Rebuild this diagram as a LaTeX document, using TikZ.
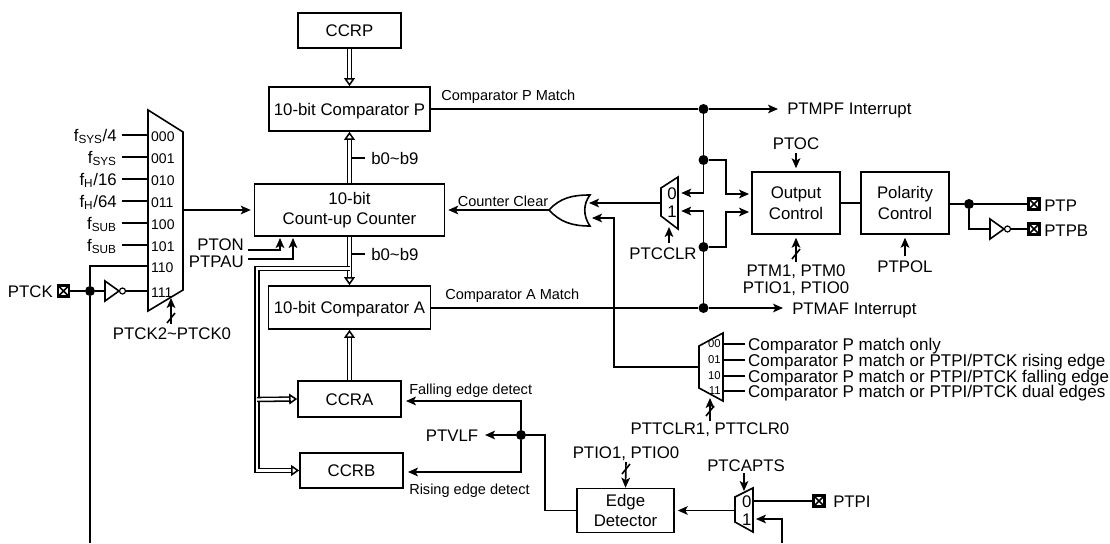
\documentclass[tikz,border=0pt]{standalone}
\usepackage{fontspec}
\setmainfont{Liberation Sans}
\usetikzlibrary{arrows.meta}

\newcommand{\bigsize}{\fontsize{12.6}{15.5}\selectfont}
\newcommand{\smallsize}{\fontsize{10.9}{13}\selectfont}

\tikzset{
        wire/.style={line width=1.2pt, line join=miter},
        sig/.style={wire, -{Stealth[length=7.5pt,width=6.5pt,inset=1.8pt]}},
        gapped/.style={shorten >=2.2pt},
        bus/.style={line width=1.15pt, double, double distance=1.8pt, -{Triangle[open,length=6pt,width=8pt,fill=white]}},
        block/.style 2 args={draw, wire, minimum width=#1*0.75pt, minimum height=#2*0.75pt, inner sep=0pt, align=center, font=\bigsize},
        oneline/.style={text height=9pt, text depth=0pt},
        lab/.style={inner sep=0pt, text height=9pt, text depth=0pt, font=\bigsize},
        smalllab/.style={inner sep=0pt, text height=8pt, text depth=0pt, font=\smallsize},
        clk/.style={lab, anchor=east, inner xsep=3.75pt},
        code/.style={lab, anchor=west, inner xsep=2.2pt, font=\fontsize{10.5}{12}\selectfont},
        tinycode/.style={inner ysep=0pt, inner xsep=1.5pt, anchor=east, font=\fontsize{8.5}{10}\selectfont},
        tail/.style={lab, anchor=west, inner xsep=2.2pt, font=\fontsize{12.75}{15.5}\selectfont},
        digit/.style={lab, inner xsep=1pt},
        dot/.style={circle, fill=black, inner sep=0pt, minimum size=7.5pt},
        bubble/.style={circle, draw, line width=0.9pt, fill=white, inner sep=0pt, minimum size=4.5pt},
        pad/.style={draw, line width=1.8pt, inner sep=0pt, minimum size=8.5pt,
                path picture={\draw[line width=1.1pt] (path picture bounding box.north west) -- (path picture bounding box.south east)
                (path picture bounding box.north east) -- (path picture bounding box.south west);}},
}

\newcommand{\inverter}[3]{%
        \draw[wire] (#2,#3-10) -- (#2+14,#3) -- (#2,#3+10) -- cycle;
        \coordinate (#1In) at (#2,#3);
        \node[bubble] (#1Out) at (#2+17.5,#3) {};
}
\newcommand{\bustick}[1]{\draw[wire] (#1) ++(-4,5) -- ++(8,-10);}

\begin{document}
\begin{tikzpicture}[x=0.75pt, y=-0.75pt]
        \useasboundingbox (0,0) rectangle (1110,543);

        % Registers, comparators and counter
        \node[block={103}{35}, oneline] (ccrp) at (349.5,30.5) {CCRP};
        \node[block={161}{44}, oneline] (cmpP) at (349.5,109) {10-bit Comparator P};
        \node[block={190}{52}] (counter) at (349.5,210) {10-bit\\Count-up Counter};
        \node[block={162}{43}, oneline] (cmpA) at (349.5,307.5) {10-bit Comparator A};
        \node[block={103}{36}, oneline] (ccra) at (349.5,399) {CCRA};
        \node[block={103}{35}, oneline] (ccrb) at (351.5,470.5) {CCRB};

        % Bit labels on the buses
        \node[lab, anchor=west, inner xsep=4.5pt] (bitsUp) at (365,158) {b0\textasciitilde b9};
        \node[lab, anchor=west, inner xsep=4.5pt] (bitsDown) at (365,254) {b0\textasciitilde b9};
        \draw[wire] (bitsUp.west) -- (bitsUp.west -| counter.north);
        \draw[wire] (bitsDown.west) -- (bitsDown.west -| counter.south);

        % Buses
        \coordinate (busTee) at (349.5,268.5);
        \coordinate (busCorner) at (257,268.5);
        \coordinate (busBottom) at (257,470.5);
        \coordinate (busJoin) at (257,399.5);
        \draw[bus] (ccrp) -- (cmpP);
        \draw[bus] (counter) -- (cmpP);
        \draw[bus] (counter) -- (cmpA);
        \draw[bus] (ccra) -- (cmpA);
        \draw[bus] (busTee) -- (busCorner) -- (busBottom) -- (ccrb.west);
        \draw[bus] (busJoin) -- (ccra.west);

        % Clock select mux
        \draw[wire] (148,110) -- (183,132) -- (183,290) -- (148,311) -- cycle;
        \node[clk] (clkA) at (122,135) {f\textsubscript{SYS}/4};
        \node[clk] (clkB) at (122,157) {f\textsubscript{SYS}};
        \node[clk] (clkC) at (122,179) {f\textsubscript{H}/16};
        \node[clk] (clkD) at (122,201) {f\textsubscript{H}/64};
        \node[clk] (clkE) at (122,223) {f\textsubscript{SUB}};
        \node[clk] (clkF) at (122,245) {f\textsubscript{SUB}};
        \node[code] (codeA) at (148,135) {000};
        \node[code] (codeB) at (148,157) {001};
        \node[code] (codeC) at (148,179) {010};
        \node[code] (codeD) at (148,201) {011};
        \node[code] (codeE) at (148,223) {100};
        \node[code] (codeF) at (148,245) {101};
        \node[code] (codeG) at (148,266) {110};
        \node[code] (codeH) at (148,291) {111};
        \draw[wire] (clkA) -- (codeA.west);
        \draw[wire] (clkB) -- (codeB.west);
        \draw[wire] (clkC) -- (codeC.west);
        \draw[wire] (clkD) -- (codeD.west);
        \draw[wire] (clkE) -- (codeE.west);
        \draw[wire] (clkF) -- (codeF.west);

        % PTCK pin
        \node[lab, anchor=east] (txtPTCK) at (53,291) {PTCK};
        \node[pad] (padPTCK) at (63.5,291) {};
        \node[dot] (dotCk) at (90,291) {};
        \coordinate (ckDown) at (90,543);
        \inverter{invA}{105}{291}
        \draw[wire] (padPTCK) -- (dotCk);
        \draw[wire] (dotCk) -- (invAIn);
        \draw[wire] (invAOut) -- (codeH.west);
        \draw[wire] (dotCk) |- (codeG.west);
        \draw[wire] (dotCk) -- (ckDown);

        % Mux select and counter controls
        \coordinate (muxOut) at (183,210);
        \draw[sig, gapped] (muxOut) -- (counter.west);
        \node[lab] (txtSel) at (172,333) {PTCK2\textasciitilde PTCK0};
        \coordinate (selTail) at (171,324);
        \coordinate (selTip) at (171,298);
        \draw[sig] (selTail) -- (selTip);
        \coordinate (selTick) at (171,318);
        \bustick{selTick}
        \node[lab, anchor=east] (txtPTON) at (244,244) {PTON};
        \node[lab, anchor=east] (txtPTPAU) at (244,261) {PTPAU};
        \coordinate (ptonIn) at (248,250);
        \coordinate (ptpauIn) at (248,259);
        \coordinate (ptonTip) at (280,238);
        \coordinate (ptpauTip) at (293,238);
        \draw[sig] (ptonIn) -| (ptonTip);
        \draw[sig] (ptpauIn) -| (ptpauTip);

        % Match lines
        \node[smalllab, anchor=west] (txtMatchP) at (441,95) {Comparator P Match};
        \node[smalllab, anchor=west] (txtMatchA) at (445,294) {Comparator A Match};
        \node[dot] (dotP) at (703.5,109) {};
        \node[dot] (dotPb) at (703.5,160) {};
        \node[dot] (dotAb) at (703.5,247) {};
        \node[dot] (dotA) at (703.5,308) {};
        \coordinate (mpfEnd) at (778,109);
        \coordinate (mafEnd) at (783,308);
        \node[lab, anchor=west] (txtMPF) at (787,108) {PTMPF Interrupt};
        \node[lab, anchor=west] (txtMAF) at (792,308) {PTMAF Interrupt};
        \draw[wire] (cmpP.east) -- (dotP);
        \draw[wire] (cmpA.east |- dotA) -- (dotA);
        \draw[sig] (dotP) -- (mpfEnd);
        \draw[sig] (dotA) -- (mafEnd);
        \draw[wire] (dotP) -- (dotPb);
        \draw[wire] (dotAb) -- (dotA);

        % Counter clear gate and mux
        \coordinate (orOut) at (549,210);
        \coordinate (orInA) at (589,203);
        \coordinate (orInB) at (592,218);
        \draw[wire] (orOut) .. controls (560,198) and (572,195) .. (590,195)
                .. controls (583,204) and (583,216) .. (590,226)
                .. controls (572,226) and (560,222) .. cycle;
        \draw[sig, gapped] (orOut) -- (counter.east);
        \node[smalllab] (txtClear) at (503,201) {Counter Clear};
        \draw[wire] (661,188) -- (678,177) -- (678,229) -- (661,216) -- cycle;
        \node[digit] (clrZero) at (672,193) {0};
        \node[digit] (clrOne) at (672,211) {1};
        \coordinate (clrOut) at (661,203);
        \draw[sig] (clrOut) -- (orInA);
        \draw[sig, gapped] (dotPb) |- (clrZero.east);
        \draw[sig, gapped] (dotAb) |- (clrOne.east);
        \node[lab] (txtPTCCLR) at (663,253) {PTCCLR};
        \coordinate (clrTail) at (669,243);
        \coordinate (clrTip) at (669,227);
        \draw[sig] (clrTail) -- (clrTip);

        % Output and polarity control
        \node[block={88}{62}] (outctl) at (796,203) {Output\\Control};
        \node[block={88}{62}] (polctl) at (905,203) {Polarity\\Control};
        \draw[wire] (outctl) -- (polctl);
        \coordinate (bendP) at (726,160);
        \coordinate (bendA) at (726,247);
        \coordinate (outP) at (752,194);
        \coordinate (outA) at (752,212);
        \draw[sig, gapped] (dotPb) -- (bendP) |- (outP);
        \draw[sig, gapped] (dotAb) -- (bendA) |- (outA);
        \node[lab] (txtPTOC) at (796,143) {PTOC};
        \coordinate (ptocTail) at (796,153);
        \draw[sig, gapped] (ptocTail) -- (outctl.north);
        \node[lab] (txtModeA) at (796,270) {PTM1, PTM0};
        \node[lab] (txtModeB) at (796,287) {PTIO1, PTIO0};
        \coordinate (modeTail) at (796,262);
        \draw[sig, gapped] (modeTail) -- (outctl.south);
        \coordinate (modeTick) at (796,254);
        \bustick{modeTick}
        \node[lab] (txtPTPOL) at (905,266) {PTPOL};
        \coordinate (polTail) at (905,256);
        \draw[sig, gapped] (polTail) -- (polctl.south);

        % Output pins
        \node[dot] (dotQ) at (969,204) {};
        \node[pad] (padP) at (1034,204) {};
        \node[pad] (padPB) at (1034,229) {};
        \node[lab, anchor=west] (txtPTP) at (1044,205) {PTP};
        \node[lab, anchor=west] (txtPTPB) at (1044,230) {PTPB};
        \inverter{invB}{990}{229}
        \draw[wire] (polctl.east |- dotQ) -- (dotQ);
        \draw[wire] (dotQ) -- (padP);
        \draw[wire] (dotQ) |- (invBIn);
        \draw[wire] (invBOut) -- (padPB);

        % Trigger clear select mux
        \draw[wire] (699,346) -- (723,333) -- (723,401) -- (699,388) -- cycle;
        \node[tinycode] (trigA) at (723,344) {00};
        \node[tinycode] (trigB) at (723,360) {01};
        \node[tinycode] (trigC) at (723,376) {10};
        \node[tinycode] (trigD) at (723,391) {11};
        \node[tail] (modeA) at (745,344) {Comparator P match only};
        \node[tail] (modeB) at (745,360) {Comparator P match or PTPI/PTCK rising edge};
        \node[tail] (modeC) at (745,376) {Comparator P match or PTPI/PTCK falling edge};
        \node[tail] (modeD) at (745,391) {Comparator P match or PTPI/PTCK dual edges};
        \draw[wire] (trigA.east) -- (modeA.west);
        \draw[wire] (trigB.east) -- (modeB.west);
        \draw[wire] (trigC.east) -- (modeC.west);
        \draw[wire] (trigD.east) -- (modeD.west);
        \coordinate (trigOut) at (699,367);
        \coordinate (trigBend) at (614,218);
        \draw[sig] (trigOut) -| (trigBend) -- (orInB);
        \node[lab] (txtTrig) at (710,428) {PTTCLR1, PTTCLR0};
        \coordinate (trigTail) at (710,421);
        \coordinate (trigTip) at (710,398);
        \draw[sig] (trigTail) -- (trigTip);
        \coordinate (trigTick) at (710,411);
        \bustick{trigTick}

        % Edge detector and capture input
        \node[block={97}{44}] (edge) at (625.5,510.5) {Edge\\Detector};
        \node[dot] (dotV) at (521,435) {};
        \coordinate (bendV) at (545,435);
        \coordinate (ccraIn) at (403,401);
        \coordinate (ccrbIn) at (405,472);
        \coordinate (vlfEnd) at (485,435);
        \draw[wire] (edge.west) -| (bendV) -- (dotV);
        \draw[sig, gapped] (dotV) |- (ccraIn);
        \draw[sig, gapped] (dotV) |- (ccrbIn);
        \draw[sig] (dotV) -- (vlfEnd);
        \node[lab] (txtPTVLF) at (452,435) {PTVLF};
        \node[smalllab, anchor=west] (txtFall) at (409,389) {Falling edge detect};
        \node[smalllab, anchor=west] (txtRise) at (409,489) {Rising edge detect};
        \node[lab] (txtIO) at (626,452) {PTIO1, PTIO0};
        \coordinate (ioTail) at (626,462);
        \draw[sig] (ioTail) -- (edge.north);
        \coordinate (ioTick) at (626,469);
        \bustick{ioTick}

        % Capture select mux
        \draw[wire] (735,497) -- (753,488) -- (753,532) -- (735,522) -- cycle;
        \node[digit] (capZero) at (746.7,501) {0};
        \node[digit] (capOne) at (746.7,519) {1};
        \coordinate (capOut) at (735,510.5);
        \draw[sig, gapped] (capOut) -- (edge.east);
        \node[pad] (padPTPI) at (819,501) {};
        \node[lab, anchor=west] (txtPTPI) at (833,501) {PTPI};
        \draw[wire] (capZero.east) -- (padPTPI);
        \coordinate (piDown) at (782,543);
        \draw[sig, gapped] (piDown) |- (capOne.east);
        \node[lab] (txtCap) at (746,465) {PTCAPTS};
        \coordinate (capTail) at (744,473);
        \coordinate (capTip) at (744,491);
        \draw[sig] (capTail) -- (capTip);
\end{tikzpicture}
\end{document}
